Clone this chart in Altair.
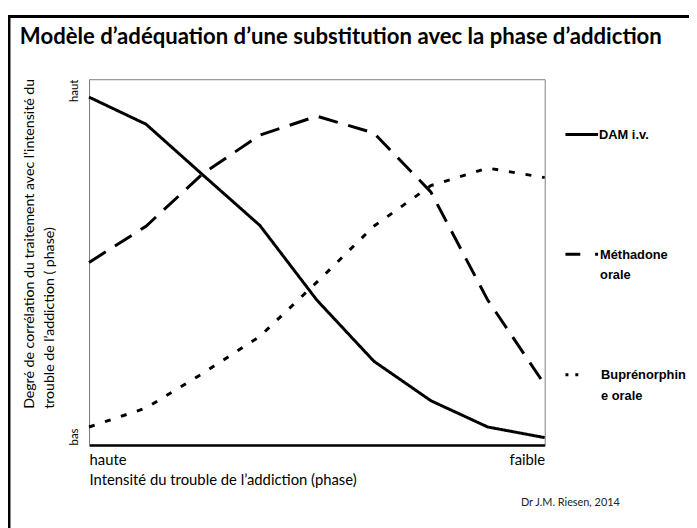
import altair as alt
import pandas as pd

# ---- data -------------------------------------------------------------
TITLE = "Modèle d’adéquation d’une substitution avec la phase d’addiction"
series = ["DAM i.v.", "Méthadone orale", "Buprénorphine orale"]
legend_labels = ["DAM i.v.", "Méthadone\norale", "Buprénorphin\ne orale"]
phase = [0, 1, 2, 3, 4, 5, 6, 7, 8]
dam = [0.951, 0.877, 0.738, 0.600, 0.396, 0.229, 0.121, 0.049, 0.020]
methadone = [0.499, 0.598, 0.742, 0.847, 0.899, 0.853, 0.692, 0.396, 0.165]
bupre = [0.049, 0.101, 0.196, 0.297, 0.445, 0.598, 0.709, 0.757, 0.731]
x_tick_labels = ["haute", "faible"]
y_tick_labels = ["bas", "haut"]
x_title = "Intensité du trouble de l’addiction (phase)"
y_title = ["Degré de corrélation du traitement avec l’intensité du",
           "trouble de l’addiction  ( phase)"]
credit = "Dr J.M. Riesen, 2014"

rows = []
for name, vals in zip(series, [dam, methadone, bupre]):
    for p, v in zip(phase, vals):
        rows.append({"phase": p, "valeur": v, "serie": name})
df = pd.DataFrame(rows)
one = pd.DataFrame({"k": [0]})

W, H = 461, 370
FONT = "Lato"
LEG_FONT = "Liberation Sans"

x_expr = f"datum.value == 0 ? '{x_tick_labels[0]}' : '{x_tick_labels[1]}'"
y_expr = f"datum.value == 1 ? '{y_tick_labels[1]}' : '{y_tick_labels[0]}'"

lines = alt.Chart(df).mark_line(strokeWidth=3, color="black", strokeCap="butt",
                                strokeJoin="miter").encode(
    x=alt.X("phase:Q", scale=alt.Scale(domain=[0, 8], nice=False),
            axis=alt.Axis(values=[0, 8], labelExpr=x_expr, title=x_title,
                          grid=False, ticks=False, tickSize=0,
                          domainColor="black", domainWidth=2.5,
                          labelFlush=True, labelPadding=8, labelFont=FONT,
                          labelFontSize=15, labelColor="black",
                          titleFont=FONT, titleFontSize=15, titleFontWeight="normal",
                          titleColor="black", titleAnchor="start", titleAlign="left",
                          titlePadding=5)),
    y=alt.Y("valeur:Q", scale=alt.Scale(domain=[0, 1], nice=False),
            axis=alt.Axis(values=[0, 1], labelExpr=y_expr, title=y_title,
                          grid=False, ticks=False, tickSize=0,
                          domainColor="#7f7f7f", domainWidth=1,
                          labelFlush=False, labelAngle=270,
                          labelAlign={"condition": {"test": "datum.value == 1", "value": "right"},
                                      "value": "left"},
                          labelBaseline="bottom", labelPadding=10,
                          labelFont=FONT, labelFontSize=11.5, labelColor="black",
                          titleFont=FONT, titleFontSize=14.3, titleFontWeight="normal",
                          titleColor="black", titlePadding=12, titleLineHeight=20,
                          titleAngle=270, titleAlign="left", titleY=333)),
    strokeDash=alt.StrokeDash("serie:N",
                              scale=alt.Scale(domain=series,
                                              range=[[1, 0], [20, 11], [6, 11]]),
                              legend=None),
    detail="serie:N",
)

# legend drawn by hand (custom sample lengths / wrapped labels)
leg_y = [56, 177, 299]
leg_x2 = [515, 515, 495]
leg_dash = [[1, 0], [15, 15], [3, 7]]
leg_text_x = [516, 517, 518]
layers = [lines]
for i in range(3):
    layers.append(alt.Chart(one).mark_rule(strokeWidth=3, color="black", strokeCap="butt",
                                           strokeDash=leg_dash[i]).encode(
        x=alt.value(482), x2=alt.value(leg_x2[i]), y=alt.value(leg_y[i])))
    layers.append(alt.Chart(one).mark_text(align="left", baseline="alphabetic",
                                           font=LEG_FONT, fontWeight="bold", fontSize=13,
                                           lineBreak="\n", lineHeight=21, color="black").encode(
        x=alt.value(leg_text_x[i]), y=alt.value(leg_y[i] + 4.5), text=alt.value(legend_labels[i])))

# title, credit, outer frame
layers.append(alt.Chart(one).mark_text(align="left", baseline="alphabetic", font=FONT,
                                       fontWeight="bold", fontSize=22.4, color="black").encode(
    x=alt.value(-70), y=alt.value(-36), text=alt.value(TITLE)))
layers.append(alt.Chart(one).mark_text(align="left", baseline="alphabetic", font=FONT,
                                       fontSize=11, color="#222").encode(
    x=alt.value(437), y=alt.value(432), text=alt.value(credit)))
layers.append(alt.Chart(one).mark_rule(strokeWidth=3, color="black").encode(
    x=alt.value(-81), y=alt.value(-63.5), y2=alt.value(470)))
layers.append(alt.Chart(one).mark_rule(strokeWidth=3, color="black").encode(
    x=alt.value(-82.5), x2=alt.value(640), y=alt.value(-63.5)))

chart = alt.layer(*layers).properties(
    width=W, height=H,
    autosize=alt.AutoSizeParams(type="none"),
    padding={"left": 82, "top": 69, "right": 689 - 82 - W, "bottom": 520 - 69 - H},
    background="white",
).configure_view(stroke="#7f7f7f", strokeWidth=1)

chart.save("out.html", embed_options={"renderer": "svg", "actions": False})
